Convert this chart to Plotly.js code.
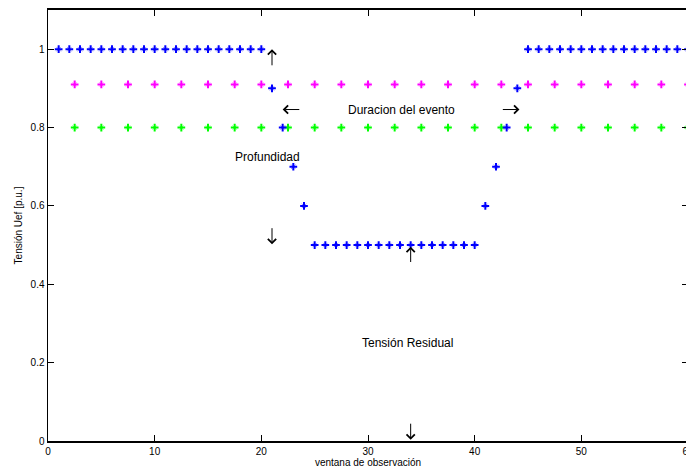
<!DOCTYPE html>
<html>
<head>
<meta charset="utf-8">
<script src="https://cdn.plot.ly/plotly-3.0.1.min.js"></script>
<style>
html,body{margin:0;padding:0;overflow:hidden;background:#fff;}
#chart{width:688px;height:471px;}
</style>
</head>
<body>
<div id="chart"></div>
<script>
// Tension (blue) per observation window
var ventana = [1,2,3,4,5,6,7,8,9,10,11,12,13,14,15,16,17,18,19,20,
               21,22,23,24,25,26,27,28,29,30,31,32,33,34,35,36,37,38,39,40,
               41,42,43,44,45,46,47,48,49,50,51,52,53,54,55,56,57,58,59,60];
var tension = [1,1,1,1,1,1,1,1,1,1,1,1,1,1,1,1,1,1,1,1,
               0.9,0.8,0.7,0.6,0.5,0.5,0.5,0.5,0.5,0.5,0.5,0.5,0.5,0.5,0.5,0.5,0.5,0.5,0.5,0.5,
               0.6,0.7,0.8,0.9,1,1,1,1,1,1,1,1,1,1,1,1,1,1,1,1];
// Threshold reference lines (magenta and green)
var xUmbral = [2.5,5,7.5,10,12.5,15,17.5,20,22.5,25,27.5,30,32.5,35,37.5,40,42.5,45,47.5,50,52.5,55,57.5,60];
var umbralAlto = [0.91,0.91,0.91,0.91,0.91,0.91,0.91,0.91,0.91,0.91,0.91,0.91,0.91,0.91,0.91,0.91,0.91,0.91,0.91,0.91,0.91,0.91,0.91,0.91];
var umbralBajo = [0.8,0.8,0.8,0.8,0.8,0.8,0.8,0.8,0.8,0.8,0.8,0.8,0.8,0.8,0.8,0.8,0.8,0.8,0.8,0.8,0.8,0.8,0.8,0.8];

var xTicks = [0,10,20,30,40,50,60];
var yTicks = [0,0.2,0.4,0.6,0.8,1];
var yTickText = ['0','0.2','0.4','0.6','0.8','1'];

var FONT = 'Liberation Sans, Arial, Helvetica, sans-serif';

function mk(color){
  return {symbol:'cross-thin-open', size:5.5, color:color, line:{color:color, width:2}};
}
function mkd(color){
  return {symbol:'x-thin-open', size:4.5, color:color, opacity:0.4, line:{color:color, width:1}};
}

var traces = [
  {x:xUmbral, y:umbralAlto, mode:'markers', type:'scatter', marker:mkd('#ff00ff'), hoverinfo:'skip'},
  {x:xUmbral, y:umbralAlto, mode:'markers', type:'scatter', marker:mk('#ff00ff'), hoverinfo:'skip'},
  {x:xUmbral, y:umbralBajo, mode:'markers', type:'scatter', marker:mkd('#00ff00'), hoverinfo:'skip'},
  {x:xUmbral, y:umbralBajo, mode:'markers', type:'scatter', marker:mk('#00ff00'), hoverinfo:'skip'},
  {x:ventana, y:tension, mode:'markers', type:'scatter', marker:mkd('#0000ff'), hoverinfo:'skip'},
  {x:ventana, y:tension, mode:'markers', type:'scatter', marker:mk('#0000ff'), hoverinfo:'skip'}
];

function arrow(x, y, ax, ay){
  return {x:x, y:y, ax:ax, ay:ay, xref:'x', yref:'y', axref:'x', ayref:'y',
          text:'', showarrow:true, arrowhead:4, arrowsize:1.6, arrowwidth:1,
          arrowcolor:'#000', standoff:0, startstandoff:0};
}
function label(x, y, t){
  return {x:x, y:y, xref:'x', yref:'y', text:t, showarrow:false,
          font:{family:FONT, size:12, color:'#000'}, xanchor:'center', yanchor:'middle'};
}

var layout = {
  width:688, height:471,
  margin:{l:48, r:0, t:10, b:30},
  paper_bgcolor:'#fff', plot_bgcolor:'#fff',
  showlegend:false,
  font:{family:FONT, size:10, color:'#000'},
  xaxis:{
    range:[0,60], tickvals:xTicks, ticks:'inside', ticklen:6, tickwidth:1, tickcolor:'#000',
    showline:true, linecolor:'#000', linewidth:2, mirror:'ticks',
    showgrid:false, zeroline:false, ticklabeloverflow:'allow',
    tickfont:{family:FONT, size:10, color:'#000'},
    title:{text:'ventana de observación', font:{family:FONT, size:10, color:'#000'}, standoff:2}
  },
  yaxis:{
    range:[0,1.1], tickvals:yTicks, ticktext:yTickText, ticks:'inside', ticklen:6, tickwidth:1, tickcolor:'#000',
    showline:true, linecolor:'#000', linewidth:1.5, mirror:'ticks',
    showgrid:false, zeroline:false,
    tickfont:{family:FONT, size:10, color:'#000'},
    title:{text:'Tensión Uef [p.u.]', font:{family:FONT, size:10, color:'#000'}, standoff:6}
  },
  annotations:[
    arrow(21, 1.0, 21, 0.955),
    arrow(22.0, 0.846, 23.7, 0.846),
    arrow(44.2, 0.846, 42.5, 0.846),
    arrow(21, 0.502, 21, 0.547),
    arrow(34, 0.496, 34, 0.453),
    arrow(34, 0.003, 34, 0.048),
    label(33.15, 0.846, 'Duracion del evento'),
    label(20.6, 0.724, 'Profundidad'),
    label(33.7, 0.25, 'Tensión Residual')
  ]
};

Plotly.newPlot('chart', traces, layout, {displayModeBar:false, staticPlot:true});
</script>
</body>
</html>
